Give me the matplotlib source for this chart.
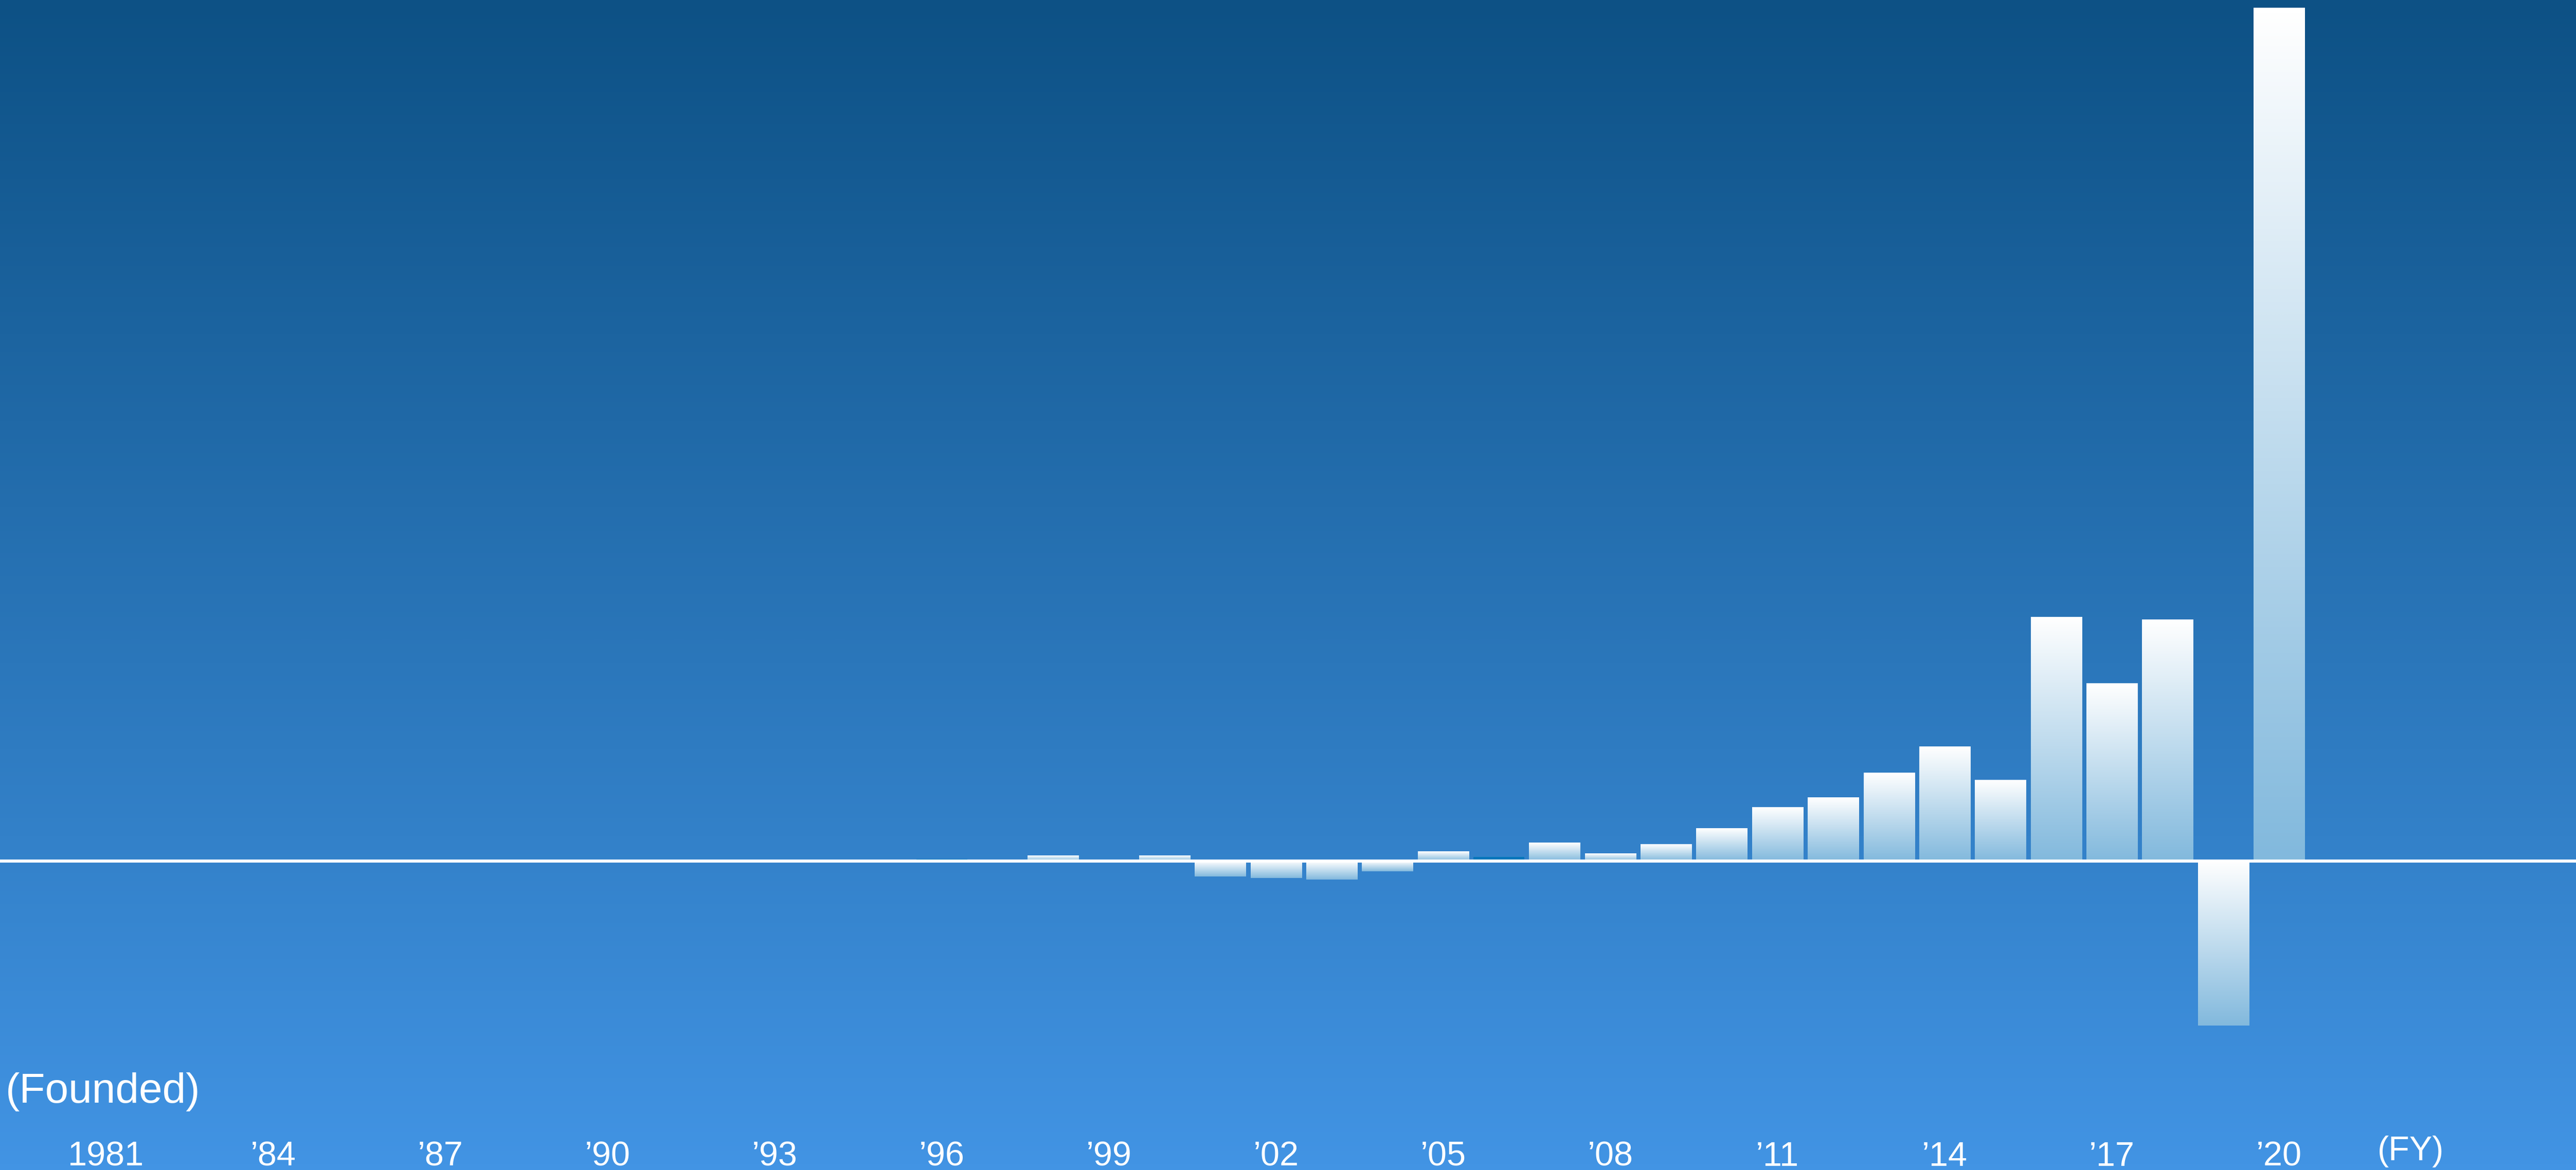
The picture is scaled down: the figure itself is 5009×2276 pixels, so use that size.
import numpy as np
import matplotlib
matplotlib.use("Agg")
import matplotlib.pyplot as plt
from matplotlib.colors import LinearSegmentedColormap
from matplotlib.transforms import blended_transform_factory

# Net income by fiscal year (billions of yen)
years = [1996, 1997, 1998, 1999, 2000, 2001, 2002, 2003, 2004, 2005,
         2006, 2007, 2008, 2009, 2010, 2011, 2012, 2013, 2014, 2015,
         2016, 2017, 2018, 2019, 2020]
net_income = [12, 10, 33, -4, 33, -89, -100, -107, -60, 57,
              24, 108, 43, 97, 190, 314, 372, 515, 668, 474,
              1426, 1039, 1411, -962, 4988]
# Years drawn as plain solid bars instead of the gradient fill
solid_years = [1996, 1997, 2006]

tick_years = [1981, 1984, 1987, 1990, 1993, 1996, 1999, 2002, 2005,
              2008, 2011, 2014, 2017, 2020]
tick_labels = ["1981", "\u201984", "\u201987", "\u201990", "\u201993",
               "\u201996", "\u201999", "\u201902", "\u201905", "\u201908",
               "\u201911", "\u201914", "\u201917", "\u201920"]

W, H, DPI = 5009, 2276, 100
fig = plt.figure(figsize=(W / DPI, H / DPI), dpi=DPI)
ax = fig.add_axes([0, 0, 1, 1])
ax.set_axis_off()

XMIN, XMAX = 1979.10, 2025.33
YMIN, YMAX = -1806, 5033

# Background: vertical blue gradient
bg_cmap = LinearSegmentedColormap.from_list("bg", ["#4294e4", "#0d5185"])
bg = np.linspace(0, 1, 512).reshape(-1, 1)
ax.imshow(bg, cmap=bg_cmap, extent=(XMIN, XMAX, YMIN, YMAX),
          origin="lower", aspect="auto", interpolation="bilinear", zorder=0)

# Bars: white at the top edge fading to light blue at the bottom edge
bar_cmap = LinearSegmentedColormap.from_list("bar", ["#82b9dd", "#ffffff"])
grad = np.linspace(0, 1, 256).reshape(-1, 1)
width = 0.914
for yr, val in zip(years, net_income):
    lo, hi = min(0, val), max(0, val)
    x0, x1 = yr - width / 2, yr + width / 2
    if yr in solid_years:
        ax.bar(yr, val, width=width, color="#0676bb", linewidth=0, zorder=2)
    else:
        ax.imshow(grad, cmap=bar_cmap, extent=(x0, x1, lo, hi),
                  origin="lower", aspect="auto", interpolation="bilinear",
                  zorder=2)

# Zero line across the full width
ax.axhline(0, color="#ffffff", linewidth=4.3, zorder=3)

ax.set_xlim(XMIN, XMAX)
ax.set_ylim(YMIN, YMAX)

font = ["Liberation Sans", "DejaVu Sans"]
trans = blended_transform_factory(ax.transData, fig.transFigure)
for yr, lab in zip(tick_years, tick_labels):
    ax.text(yr, 1 - 2268 / H, lab, transform=trans, ha="center",
            va="baseline", color="white", fontsize=48, family=font)

fig.text(11 / W, 1 - 2145 / H, "(Founded)", ha="left", va="baseline",
         color="white", fontsize=59, family=font)
fig.text(4688 / W, 1 - 2257 / H, "(FY)", ha="center", va="baseline",
         color="white", fontsize=48, family=font)

fig.savefig("out.png", dpi=DPI)
